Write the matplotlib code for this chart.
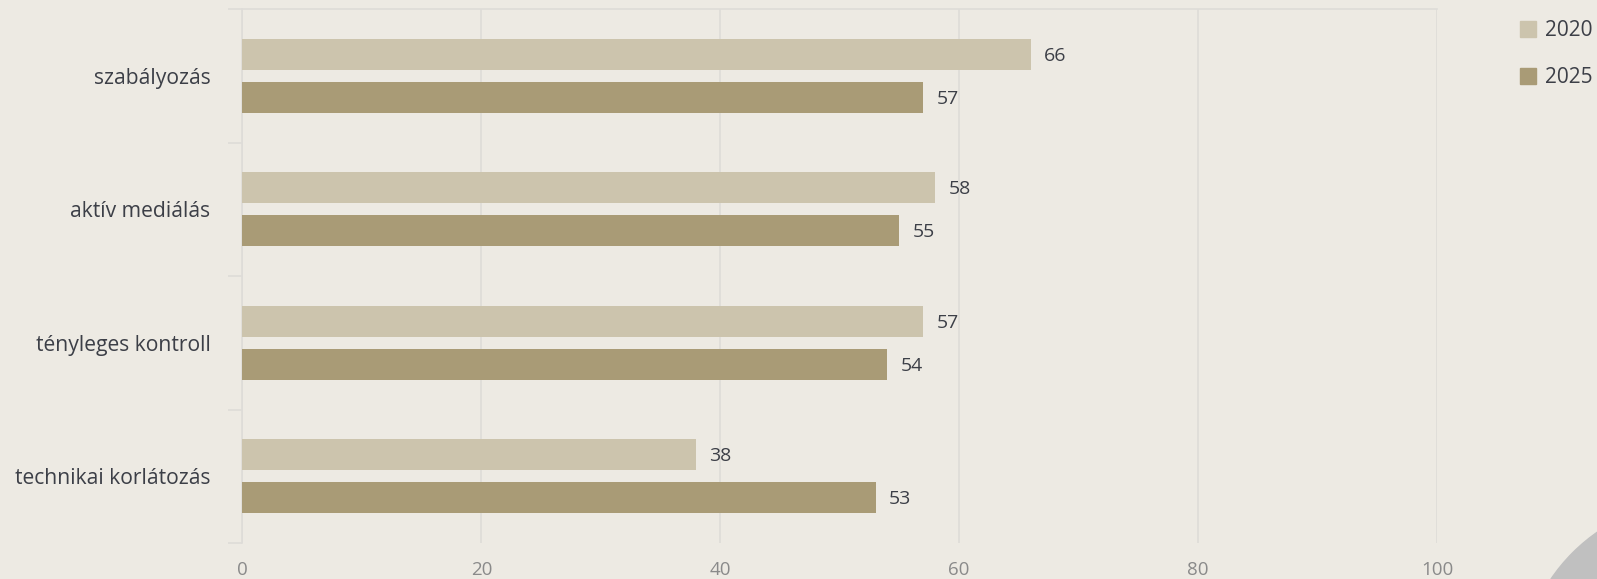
import matplotlib
matplotlib.use("Agg")
import matplotlib.pyplot as plt
import numpy as np
from matplotlib.patches import Circle, Patch

categories = ["szabályozás", "aktív mediálás", "tényleges kontroll", "technikai korlátozás"]
series_names = ["2020", "2025"]
values_2020 = [66, 58, 57, 38]
values_2025 = [57, 55, 54, 53]
xticks = [0, 20, 40, 60, 80, 100]

bg = "#edeae3"
c2020 = "#ccc4ad"
c2025 = "#a99b76"
grid_c = "#dedcd8"
text_c = "#3c3f47"

plt.rcParams['font.family'] = ['Open Sans', 'DejaVu Sans']

W, H = 1597, 579
fig = plt.figure(figsize=(W/100, H/100), dpi=100, facecolor=bg)
ax = fig.add_axes([242.4/W, 1 - 543/H, (1437-242.4)/W, (543-9)/H])
ax.set_facecolor(bg)

y = np.arange(len(categories))
off = 0.161
h = 0.23
b1 = ax.barh(y - off, values_2020, height=h, color=c2020, zorder=3)
b2 = ax.barh(y + off, values_2025, height=h, color=c2025, zorder=3)
for bars, vals in ((b1, values_2020), (b2, values_2025)):
    for r, v in zip(bars, vals):
        ax.annotate(str(v), (v, r.get_y() + r.get_height()/2), xytext=(9.5, -1.2),
                    textcoords="offset points", va="center", ha="left",
                    fontsize=14, color=text_c)

ax.set_xlim(0, 100)
ax.set_ylim(len(categories) - 0.5, -0.5)
ax.set_xticks(xticks)
ax.set_xticklabels([str(t) for t in xticks])
ax.set_yticks(y)
ax.set_yticklabels(categories)
ax.tick_params(axis='y', length=0, pad=23, labelsize=15.2, labelcolor=text_c)
ax.tick_params(axis='x', length=0, pad=13, labelsize=13.5, labelcolor="#8a8a8a")
# category boundary ticks
ax.set_yticks(np.arange(-0.5, len(categories)), minor=True)
ax.tick_params(axis='y', which='minor', length=10, width=1.2, color=grid_c)
ax.grid(axis='x', color=grid_c, linewidth=1.2, zorder=0)
for s in ["right", "bottom"]:
    ax.spines[s].set_visible(False)
ax.spines["left"].set_color(grid_c)
ax.spines["left"].set_linewidth(1.2)
ax.spines["top"].set_color(grid_c)
ax.spines["top"].set_linewidth(1.2)

handles = [Patch(color=c2020), Patch(color=c2025)]
fig.legend(handles, series_names, loc="upper left", bbox_to_anchor=(1512/W, 1 - 12/H),
           frameon=False, fontsize=15, labelcolor=text_c, handlelength=0.75,
           handleheight=0.75, handletextpad=0.45, labelspacing=1.25, borderaxespad=0)

fig.patches.append(Circle((1700, -101), 180, transform=None, color="#c0c0c0", zorder=0))

fig.savefig("out.png", dpi=100, facecolor=bg)
